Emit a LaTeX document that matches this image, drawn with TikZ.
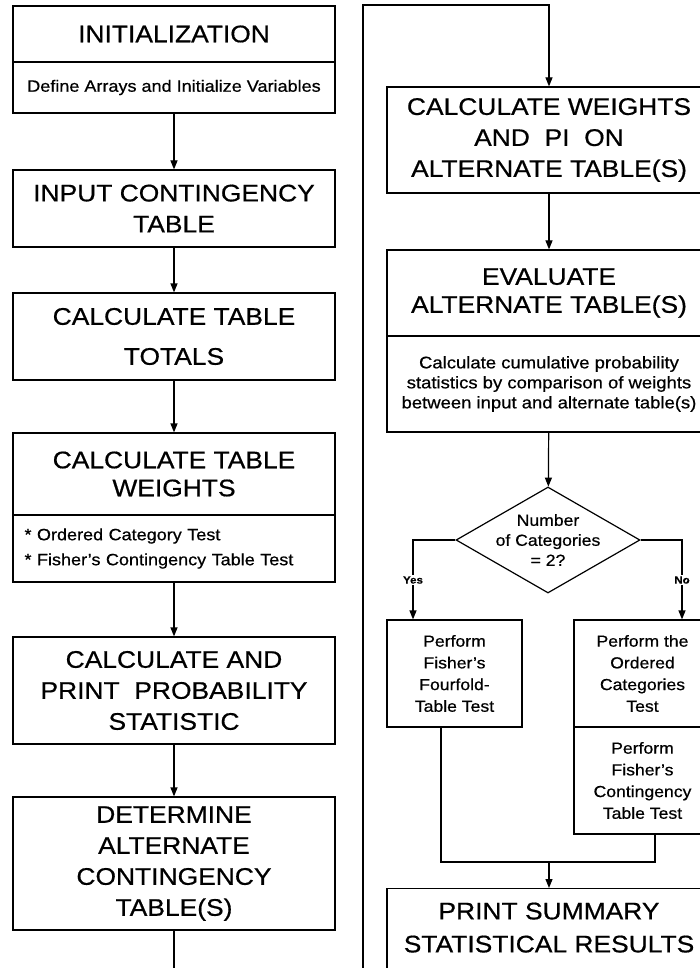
\documentclass[tikz,border=0pt]{standalone}
\usepackage{fontspec}
\setmainfont{Liberation Sans}[FakeStretch=1.1,FakeBold=0.6]
\usetikzlibrary{arrows.meta,shapes.geometric,calc}
\begin{document}
\begin{tikzpicture}[x=1pt,y=-1pt,
  box/.style={draw, line width=1.2pt, inner sep=0pt, align=center, text=black},
  big/.style={font=\fontsize{24}{31}\selectfont},
  bigtot/.style={font=\fontsize{24}{40}\selectfont},
  bigtight/.style={font=\fontsize{24}{28}\selectfont},
  bigsum/.style={font=\fontsize{24}{33}\selectfont},
  sm/.style={font=\fontsize{16.4}{25}\selectfont},
  rs/.style={font=\fontsize{16.8}{20}\selectfont},
  md/.style={font=\fontsize{16}{21.7}\selectfont},
  dt/.style={font=\fontsize{16}{20}\selectfont, align=center, inner sep=0pt},
  yn/.style={font=\fontsize{10.5}{11}\selectfont\bfseries, fill=white, inner sep=1pt},
  arr/.style={line width=1.2pt, -{Triangle[length=9pt,width=7pt]}},
  ln/.style={line width=1.2pt}]
\useasboundingbox (0,0) rectangle (700,968);
\clip (0,0) rectangle (700,968);
% left column
\node[box,big,minimum width=322pt,minimum height=56pt] (init) at (174,34) {INITIALIZATION};
\node[box,sm,minimum width=322pt,minimum height=51pt] (initb) at (174,87.5) {Define Arrays and Initialize Variables};
\node[box,big,minimum width=322pt,minimum height=77pt] (input) at (174,208.5) {INPUT CONTINGENCY\\TABLE};
\node[box,bigtot,minimum width=322pt,minimum height=87pt] (tot) at (174,336.5) {CALCULATE TABLE\\TOTALS};
\node[box,bigtight,minimum width=322pt,minimum height=82pt] (wts) at (174,474) {CALCULATE TABLE\\WEIGHTS};
\node[box,sm,align=left,text width=299pt,minimum width=322pt,minimum height=67pt] (wtsb) at (174,548.5) {* Ordered Category Test\\\relax * Fisher's Contingency Table Test};
\node[box,big,minimum width=322pt,minimum height=107pt] (prob) at (174,690.5) {CALCULATE AND\\PRINT\ \ PROBABILITY\\STATISTIC};
\node[box,big,minimum width=322pt,minimum height=133pt] (det) at (174,863.5) {DETERMINE\\ALTERNATE\\CONTINGENCY\\TABLE(S)};
% right column
\node[box,big,minimum width=324pt,minimum height=106pt] (wpi) at (549,140) {CALCULATE WEIGHTS\\AND\ \ PI\ \ ON\\ALTERNATE TABLE(S)};
\node[box,bigtight,minimum width=324pt,minimum height=86pt] (ev) at (549,293) {EVALUATE\\ALTERNATE TABLE(S)};
\node[box,rs,minimum width=324pt,minimum height=96pt] (evb) at (549,384) {Calculate cumulative probability\\statistics by comparison of weights\\between input and alternate table(s)};
\node[diamond,draw,line width=1.2pt,minimum width=184pt,minimum height=106pt,inner sep=0pt] (dia) at (548,540) {};
\node[dt] (diat) at (548,540) {Number\\of Categories\\= 2?};
\node[box,md,minimum width=135pt,minimum height=107pt] (f4) at (454.5,673.5) {Perform\\Fisher's\\Fourfold-\\Table Test};
\node[box,md,minimum width=137pt,minimum height=107pt] (oc) at (642.5,673.5) {Perform the\\Ordered\\Categories\\Test};
\node[box,md,minimum width=137pt,minimum height=107pt] (fc) at (642.5,780.5) {Perform\\Fisher's\\Contingency\\Table Test};
\node[box,bigsum,anchor=north,minimum width=324pt,inner ysep=14pt] (sum) at (549,888) {PRINT SUMMARY\\STATISTICAL RESULTS\\\rule{0pt}{40pt}};
% connectors left
\draw[arr] (initb) -- (input);
\draw[arr] (input) -- (tot);
\draw[arr] (tot) -- (wts);
\draw[arr] (wtsb) -- (prob);
\draw[arr] (prob) -- (det);
\coordinate (lend) at (174,985);
\draw[ln] (det) -- (lend);
% loop
\coordinate (lstart) at (363,985);
\coordinate (ltop) at (363,5);
\draw[arr] (lstart) -- (ltop) -| (wpi);
% connectors right
\draw[arr] (wpi) -- (ev);
\draw[arr] (evb) -- (dia);
\coordinate (yc) at (413,540);
\coordinate (nc) at (682,540);
\draw[arr] (dia.west) -- (yc) -- (yc |- f4.north);
\draw[arr] (dia.east) -- (nc) -- (nc |- oc.north);
\node[yn] (yes) at (413,580) {Yes};
\node[yn] (no) at (682,580) {No};
\coordinate (mj) at (549,862);
\draw[ln] ([xshift=-13.5pt]f4.south) |- (mj) -| ([xshift=12.5pt]fc.south);
\draw[arr] (mj) -- (sum);
\end{tikzpicture}
\end{document}
